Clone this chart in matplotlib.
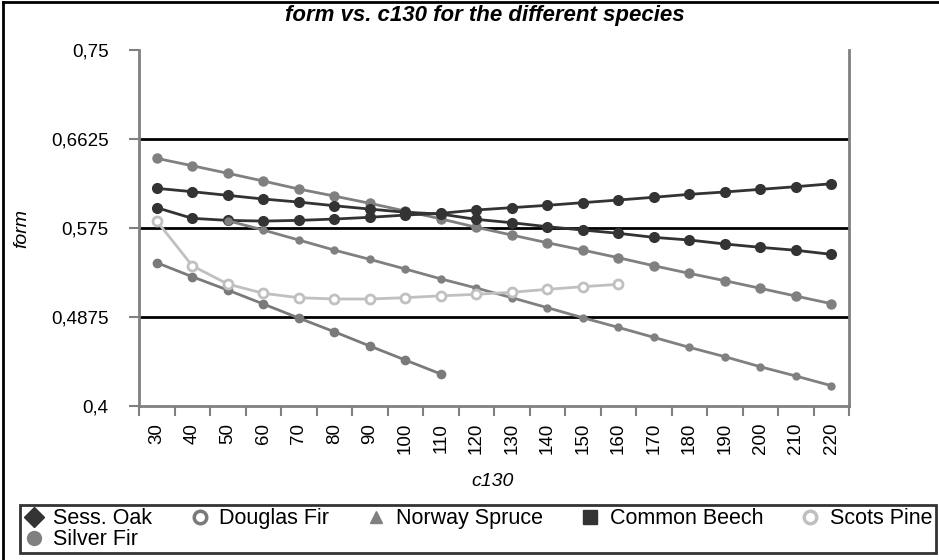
import matplotlib
matplotlib.use("Agg")
import matplotlib.pyplot as plt
from matplotlib.lines import Line2D
import numpy as np

plt.rcParams['font.family'] = ['Liberation Sans', 'DejaVu Sans']

c130 = [30, 40, 50, 60, 70, 80, 90, 100, 110, 120, 130, 140, 150, 160, 170, 180, 190, 200, 210, 220]

sess_oak = [0.614, 0.6107, 0.6071, 0.6035, 0.6005, 0.5969, 0.5936, 0.5905, 0.5887, 0.5835,
            0.5802, 0.5763, 0.573, 0.5698, 0.5658, 0.5632, 0.5593, 0.556, 0.5531, 0.5491]
douglas_fir = [0.5409, 0.5271, 0.514, 0.5003, 0.4865, 0.473, 0.459, 0.4452, 0.4315]
norway_spruce = [None, None, 0.5822, 0.573, 0.5632, 0.5533, 0.5442, 0.5347, 0.525, 0.516,
                 0.5065, 0.4967, 0.4868, 0.4773, 0.4675, 0.4577, 0.4485, 0.4386, 0.4295, 0.42]
common_beech = [0.595, 0.5845, 0.5825, 0.5818, 0.5825, 0.5838, 0.5855, 0.5877, 0.5894, 0.5927,
                0.595, 0.5973, 0.5999, 0.6025, 0.6052, 0.6081, 0.6104, 0.613, 0.6156, 0.6185]
scots_pine = [0.5819, 0.5379, 0.5199, 0.5108, 0.5065, 0.5052, 0.5052, 0.5065, 0.5083, 0.5098,
              0.5118, 0.5147, 0.5173, 0.5196]
silver_fir = [0.6435, 0.6362, 0.6288, 0.6212, 0.6133, 0.6064, 0.5993, 0.5917, 0.584, 0.5757,
              0.5681, 0.5605, 0.5533, 0.5458, 0.5379, 0.5304, 0.5232, 0.5157, 0.5081, 0.5006]

y_ticks = [0.4, 0.4875, 0.575, 0.6625, 0.75]
y_tick_labels = ['0,4', '0,4875', '0,575', '0,6625', '0,75']

W, H = 939, 560
fig = plt.figure(figsize=(W / 100, H / 100), dpi=100)
ax = fig.add_axes([139 / W, (H - 406) / H, (849 - 139) / W, (406 - 50) / H])

DARK = '#333333'
GRAY = '#808080'
LIGHT = '#c0c0c0'

def xs(n):
    return np.arange(n)

def vals(v):
    return np.array([np.nan if a is None else a for a in v], dtype=float)

ax.plot(xs(len(silver_fir)), vals(silver_fir), color=GRAY, lw=2, marker='o', ms=6.5,
        mec=GRAY, mfc=GRAY, zorder=3)
ax.plot(xs(len(douglas_fir)), vals(douglas_fir), color='#7a7a7a', lw=2, marker='o', ms=6,
        mec='#7a7a7a', mfc='#7a7a7a', zorder=3)
ax.plot(xs(len(common_beech)), vals(common_beech), color=DARK, lw=2, marker='o', ms=7,
        mec=DARK, mfc=DARK, zorder=4)
ax.plot(xs(len(sess_oak)), vals(sess_oak), color=DARK, lw=2, marker='o', ms=7,
        mec=DARK, mfc=DARK, zorder=4)
ax.plot(xs(len(norway_spruce)), vals(norway_spruce), color=GRAY, lw=2, marker='o', ms=5,
        mec=GRAY, mfc=GRAY, zorder=5)
ax.plot(xs(len(scots_pine)), vals(scots_pine), color=LIGHT, lw=2, marker='o', ms=6.5,
        mec=LIGHT, mfc='white', mew=2, zorder=6)

ax.set_xlim(-0.5, len(c130) - 0.5)
ax.set_ylim(0.4, 0.75)

for g in y_ticks[1:-1]:
    ax.axhline(g, color='black', lw=2, zorder=1)

ax.set_yticks(y_ticks)
ax.set_yticklabels(y_tick_labels, fontsize=13.5)
ax.tick_params(axis='y', direction='out', length=7, width=1.5, color=GRAY, pad=15)

ax.set_xticks(np.arange(len(c130)))
ax.set_xticklabels([str(c) for c in c130], rotation=90, fontsize=13.5)
ax.set_xticks(np.arange(len(c130) + 1) - 0.5, minor=True)
ax.tick_params(axis='x', which='major', length=0, pad=12)
ax.tick_params(axis='x', which='minor', direction='out', length=7, width=1.5, color=GRAY)

for s in ['left', 'bottom', 'right']:
    ax.spines[s].set_color(GRAY)
    ax.spines[s].set_linewidth(2)
ax.spines['top'].set_visible(False)

fig.text(493 / W, 1 - 482 / H, 'c130', fontsize=14, style='italic', ha='center', va='center')
fig.text(22 / W, 1 - 228 / H, 'form', fontsize=14, style='italic', ha='center', va='center',
         rotation=90)
fig.text(485 / W, 1 - 15 / H, 'form vs. c130 for the different species', fontsize=16,
         style='italic', weight='bold', ha='center', va='center')

# figure border (left & top visible)
fig.add_artist(Line2D([3 / W, 3 / W], [0, 1 - 2 / H], transform=fig.transFigure,
                      color='black', lw=2))
fig.add_artist(Line2D([3 / W, 1], [1 - 2 / H, 1 - 2 / H], transform=fig.transFigure,
                      color='black', lw=2))

labels = ['Sess. Oak', 'Silver Fir', 'Douglas Fir', 'Norway Spruce', 'Common Beech', 'Scots Pine']
handles = [
    Line2D([], [], ls='none', marker='D', ms=10, color=DARK, mec=DARK),
    Line2D([], [], ls='none', marker='o', ms=10, color=GRAY, mec=GRAY),
    Line2D([], [], ls='none', marker='o', ms=9, mfc='white', mec='#7a7a7a', mew=2.5),
    Line2D([], [], ls='none', marker='^', ms=9, color=GRAY, mec=GRAY),
    Line2D([], [], ls='none', marker='s', ms=10, color=DARK, mec=DARK),
    Line2D([], [], ls='none', marker='o', ms=9, mfc='white', mec=LIGHT, mew=2.5),
]
leg = fig.legend(handles, labels, ncol=5, loc='upper left',
                 bbox_to_anchor=(20 / W, 1 - 505 / H), bbox_transform=fig.transFigure,
                 fontsize=15.5, frameon=True, fancybox=False, borderpad=0.15,
                 handlelength=1.0, handletextpad=0.4, columnspacing=1.7,
                 labelspacing=0.0, borderaxespad=0)
leg.get_frame().set_edgecolor('black')
leg.get_frame().set_linewidth(2)

fig.savefig('out.png', dpi=100)
